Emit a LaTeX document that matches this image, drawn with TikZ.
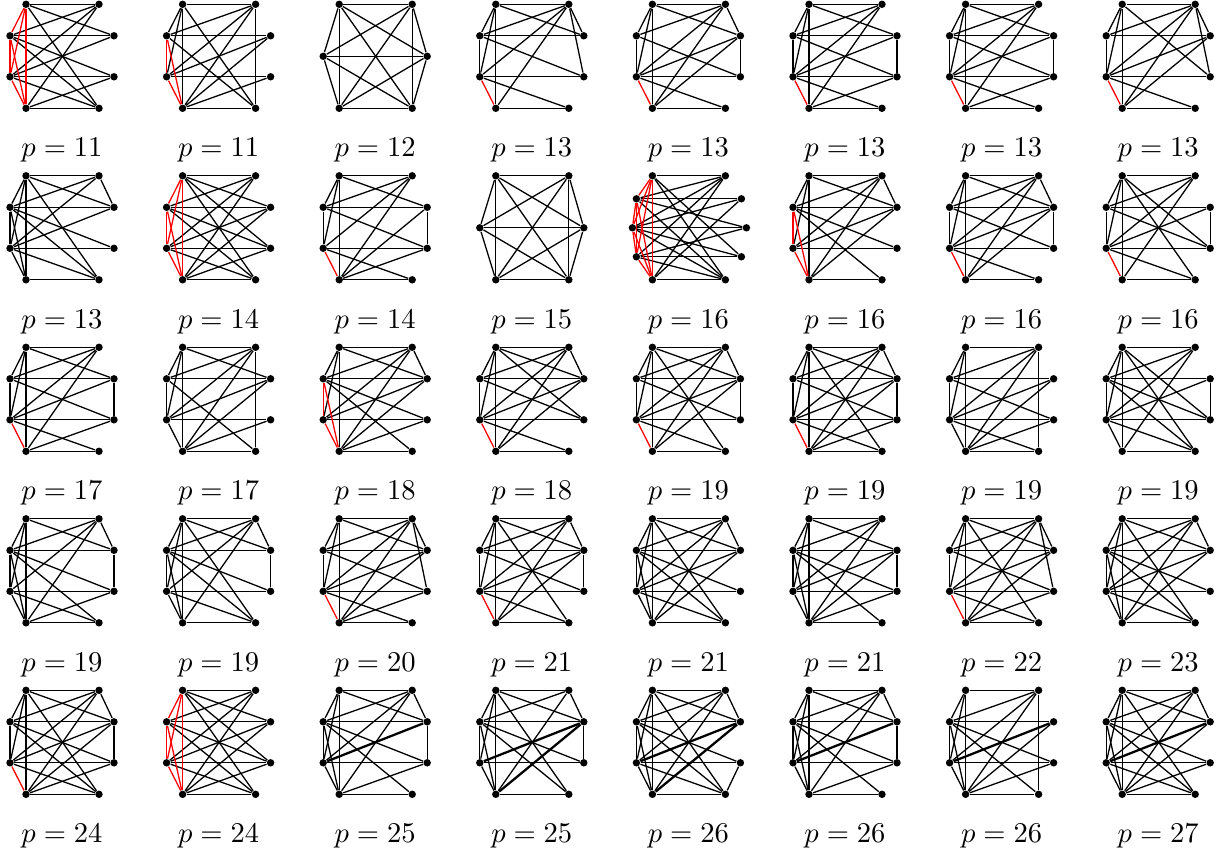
\documentclass[tikz,border=0pt]{standalone}
\usepackage{amsmath}
\usepackage{tikz}
\usetikzlibrary{positioning}

\tikzset{
  vert/.style={circle, fill=black, inner sep=0pt, minimum size=2.6pt},
  edge/.style={black, line width=0.45pt},
  redge/.style={red, line width=0.45pt},
  hedge/.style={black, line width=0.8pt},
  plabel/.style={anchor=base, inner sep=0pt}
}

% sommets d'une cellule (colonne #2, ligne #3)
\newcommand{\octo}[3]{%
  \foreach \n/\dx/\dy in {tl/16/0, tr/89/0, ru/104/31.5, rd/104/72.5, br/89/104, bl/16/104, ld/0/72.5, lu/0/31.5}
    \node[vert] (#1\n) at ({10+(#2-1)*156.6+\dx},{4.3+(#3-1)*171.5+\dy}) {};
}
\newcommand{\hexa}[3]{%
  \foreach \n/\dx/\dy in {tl/16/0, tr/89/0, r/104/52, br/89/104, bl/16/104, l/0/52}
    \node[vert] (#1\n) at ({10+(#2-1)*156.6+\dx},{4.3+(#3-1)*171.5+\dy}) {};
}
\newcommand{\deca}[3]{%
  \foreach \n/\dx/\dy in {tl/16/0, tr/89/0, ru/105/23, rm/110/52, rd/105/81, br/89/104, bl/16/104, ld/0/81, lm/-4/52, lu/0/23}
    \node[vert] (#1\n) at ({10+(#2-1)*156.6+\dx},{4.3+(#3-1)*171.5+\dy}) {};
}
\newcommand{\edges}[3]{%
  \foreach \u/\v in {#3} \draw[#2] (#1\u) -- (#1\v);
}
\newcommand{\plab}[4]{%
  \node[plabel] (#1p) at ({10+(#2-1)*156.6+52},{4.3+(#3-1)*171.5+152.5}) {$p=#4$};
}

\begin{document}
\begin{tikzpicture}[x=0.35pt, y=-0.35pt]
  \useasboundingbox (0,0) rectangle (1221,851);

  % ligne 1
  \octo{g1}{1}{1}
  \edges{g1}{edge}{tl/tr, bl/br, lu/ru, ld/rd, tl/ru, bl/rd, tl/br, bl/tr, tr/lu, br/ld, tr/ld, br/lu, ru/ld, rd/lu}
  \edges{g1}{redge}{tl/lu, tl/ld, tl/bl, lu/ld, lu/bl, ld/bl}
  \plab{g1}{1}{1}{11}

  \octo{g2}{2}{1}
  \edges{g2}{edge}{tl/tr, bl/br, tr/br, tl/bl, tl/lu, tl/ld, lu/ru, ld/rd, tl/br, tr/lu, tr/ld, tr/bl, bl/ru, bl/rd, ld/ru, lu/br}
  \edges{g2}{redge}{lu/ld, lu/bl, ld/bl}
  \plab{g2}{2}{1}{11}

  \hexa{g3}{3}{1}
  \edges{g3}{edge}{tl/tr, bl/br, l/r, tl/bl, tr/br, tl/l, bl/l, tr/r, br/r, tl/r, tl/br, tr/l, tr/bl, l/br, r/bl}
  \plab{g3}{3}{1}{12}

  \octo{g4}{4}{1}
  \edges{g4}{edge}{tl/tr, bl/br, tl/bl, lu/ru, ld/rd, lu/ld, tl/lu, tl/ld, tr/ru, tr/rd, tr/lu, tr/ld, tr/bl, tl/ru, ld/br, lu/rd}
  \edges{g4}{redge}{ld/bl}
  \plab{g4}{4}{1}{13}

  \octo{g5}{5}{1}
  \edges{g5}{edge}{tl/tr, bl/br, tl/bl, lu/ld, tl/lu, tl/ld, tr/ru, ru/rd, ld/rd, tl/ru, tr/lu, tr/ld, tr/bl, lu/rd, ld/ru, bl/ru, ld/br}
  \edges{g5}{redge}{ld/bl}
  \plab{g5}{5}{1}{13}

  \octo{g6}{6}{1}
  \edges{g6}{edge}{tl/tr, bl/br, tl/bl, lu/ld, tl/lu, tl/ld, lu/ru, ld/rd, ru/rd, tl/ru, tr/lu, tr/ld, tr/bl, ld/ru, lu/rd, ld/br, bl/rd}
  \edges{g6}{redge}{ld/bl}
  \plab{g6}{6}{1}{13}

  \octo{g7}{7}{1}
  \edges{g7}{edge}{tl/tr, bl/br, tl/bl, lu/ld, tl/lu, tl/ld, lu/ru, ld/rd, ru/rd, tl/ru, tr/lu, tr/ld, tr/bl, ld/ru, lu/rd, ld/br, bl/rd}
  \edges{g7}{redge}{ld/bl}
  \plab{g7}{7}{1}{13}

  \octo{g8}{8}{1}
  \edges{g8}{edge}{tl/tr, bl/br, tl/bl, lu/ld, tl/lu, tl/ld, tr/ru, tr/rd, lu/ru, ld/rd, tl/rd, tr/lu, tr/ld, tr/bl, ld/ru, ld/br, bl/ru}
  \edges{g8}{redge}{ld/bl}
  \plab{g8}{8}{1}{13}

  % ligne 2
  \octo{g9}{1}{2}
  \edges{g9}{edge}{tl/tr, bl/br, tl/bl, tr/ru, lu/ru, ld/rd, lu/ld, tl/lu, tl/ld, ld/bl, lu/bl, tl/ru, tl/br, tr/lu, tr/ld, lu/rd, lu/br, ld/ru, ld/br}
  \plab{g9}{1}{2}{13}

  \octo{g10}{2}{2}
  \edges{g10}{edge}{tl/tr, bl/br, lu/ru, ld/rd, tl/ru, tl/br, tl/rd, tr/lu, tr/ld, tr/bl, bl/ru, bl/rd, lu/rd, ld/ru, lu/br, ld/br}
  \edges{g10}{redge}{tl/lu, tl/ld, tl/bl, lu/ld, lu/bl, ld/bl}
  \plab{g10}{2}{2}{14}

  \octo{g11}{3}{2}
  \edges{g11}{edge}{tl/tr, bl/br, tl/bl, lu/ld, tl/lu, tl/ld, lu/ru, ld/rd, ru/rd, tl/ru, tr/lu, tr/ld, tr/bl, bl/ru, lu/rd, ld/br, bl/rd}
  \edges{g11}{redge}{ld/bl}
  \plab{g11}{3}{2}{14}

  \hexa{g12}{4}{2}
  \edges{g12}{edge}{tl/tr, bl/br, l/r, tl/bl, tr/br, tl/l, bl/l, tr/r, br/r, tl/r, tl/br, tr/l, tr/bl, l/br, r/bl}
  \plab{g12}{4}{2}{15}

  \deca{g13}{5}{2}
  \edges{g13}{edge}{tl/tr, bl/br, lu/ru, lm/rm, ld/rd, tr/lu, tr/lm, tr/ld, tr/bl, br/lu, br/lm, br/ld, br/tl, ru/lm, ru/bl, rd/lm, rd/tl, rm/lu, rm/ld}
  \edges{g13}{redge}{tl/lu, tl/lm, tl/ld, tl/bl, lu/lm, lu/ld, lu/bl, lm/ld, lm/bl, ld/bl}
  \plab{g13}{5}{2}{16}

  \octo{g14}{6}{2}
  \edges{g14}{edge}{tl/tr, bl/br, tl/bl, tl/lu, tl/ld, tr/ru, lu/ru, ld/rd, tl/ru, tr/lu, tr/ld, tr/bl, lu/rd, lu/br, ld/ru, bl/ru}
  \edges{g14}{redge}{lu/ld, lu/bl, ld/bl}
  \plab{g14}{6}{2}{16}

  \octo{g15}{7}{2}
  \edges{g15}{edge}{tl/tr, bl/br, tl/bl, lu/ld, tl/lu, tl/ld, tr/ru, ru/rd, lu/ru, ld/rd, tl/ru, tr/lu, tr/ld, tr/bl, bl/ru, ld/ru, lu/rd, ld/br}
  \edges{g15}{redge}{ld/bl}
  \plab{g15}{7}{2}{16}

  \octo{g16}{8}{2}
  \edges{g16}{edge}{tl/tr, bl/br, tl/bl, lu/ld, tl/lu, tl/ld, lu/ru, ld/rd, ru/rd, tl/rd, tl/br, tr/lu, tr/ld, tr/bl, lu/rd, ld/ru, ld/br}
  \edges{g16}{redge}{ld/bl}
  \plab{g16}{8}{2}{16}

  % ligne 3
  \octo{g17}{1}{3}
  \edges{g17}{edge}{tl/tr, bl/br, tl/bl, lu/ld, tl/lu, tl/ld, lu/ru, ld/rd, ru/rd, tl/ru, tr/lu, tr/ld, tr/bl, lu/rd, ld/ru, bl/rd, ld/br}
  \edges{g17}{redge}{ld/bl}
  \plab{g17}{1}{3}{17}

  \octo{g18}{2}{3}
  \edges{g18}{edge}{tl/tr, bl/br, tl/bl, tr/br, lu/ld, tl/lu, tl/ld, ld/bl, lu/ru, ld/rd, tr/lu, tr/ld, tr/bl, bl/ru, bl/rd, ld/ru, lu/br, tl/ru}
  \plab{g18}{2}{3}{17}

  \octo{g19}{3}{3}
  \edges{g19}{edge}{tl/tr, bl/br, tl/bl, tl/lu, tl/ld, tr/ru, lu/ru, ld/rd, tl/ru, tr/lu, tr/ld, tr/bl, lu/rd, ld/ru, lu/br, bl/ru, bl/rd}
  \edges{g19}{redge}{lu/ld, lu/bl, ld/bl}
  \plab{g19}{3}{3}{18}

  \octo{g20}{4}{3}
  \edges{g20}{edge}{tl/tr, bl/br, tl/bl, lu/ld, tl/lu, tl/ld, tr/ru, lu/ru, ld/rd, tl/ru, tl/rd, tr/lu, tr/ld, tr/bl, lu/rd, ld/ru, bl/ru, ld/br}
  \edges{g20}{redge}{ld/bl}
  \plab{g20}{4}{3}{18}

  \octo{g21}{5}{3}
  \edges{g21}{edge}{tl/tr, bl/br, tl/bl, lu/ld, tl/lu, tl/ld, tr/ru, lu/ru, ld/rd, ru/rd, tl/ru, tl/br, tr/lu, tr/ld, tr/bl, lu/rd, ld/ru, bl/ru, ld/br}
  \edges{g21}{redge}{ld/bl}
  \plab{g21}{5}{3}{19}

  \octo{g22}{6}{3}
  \edges{g22}{edge}{tl/tr, bl/br, tl/bl, lu/ld, tl/lu, tl/ld, tr/ru, lu/ru, ld/rd, ru/rd, tl/ru, tl/br, tr/lu, tr/ld, tr/bl, lu/rd, ld/ru, bl/ru, ld/br, bl/rd}
  \edges{g22}{redge}{ld/bl}
  \plab{g22}{6}{3}{19}

  \octo{g23}{7}{3}
  \edges{g23}{edge}{tl/tr, bl/br, tl/bl, tr/br, lu/ld, tl/lu, tl/ld, ld/bl, lu/ru, ld/rd, tr/lu, tr/ld, tr/bl, lu/rd, ld/ru, bl/ru, bl/rd, ld/br}
  \plab{g23}{7}{3}{19}

  \octo{g24}{8}{3}
  \edges{g24}{edge}{tl/tr, bl/br, tl/bl, lu/ld, tl/lu, tl/ld, ld/bl, lu/ru, ld/rd, ru/rd, tl/rd, tl/br, tr/lu, tr/ld, tr/bl, lu/rd, ld/ru, lu/br, ld/br}
  \plab{g24}{8}{3}{19}

  % ligne 4
  \octo{g25}{1}{4}
  \edges{g25}{edge}{tl/tr, bl/br, tl/bl, lu/ld, tl/lu, tl/ld, ld/bl, lu/bl, tr/ru, ru/rd, lu/ru, ld/rd, tl/ru, tr/lu, tr/ld, tr/bl, lu/rd, lu/br, ld/br, bl/rd}
  \plab{g25}{1}{4}{19}

  \octo{g26}{2}{4}
  \edges{g26}{edge}{tl/tr, bl/br, tl/bl, lu/ld, tl/lu, tl/ld, ld/bl, lu/bl, tr/ru, ru/rd, lu/ru, ld/rd, tl/ru, tl/br, tr/lu, tr/ld, tr/bl, lu/rd, lu/br, ld/br}
  \plab{g26}{2}{4}{19}

  \octo{g27}{3}{4}
  \edges{g27}{edge}{tl/tr, bl/br, tl/bl, lu/ld, tl/lu, tl/ld, tr/ru, tr/rd, lu/ru, ld/rd, tl/ru, tr/lu, tr/ld, tr/bl, lu/rd, ld/ru, bl/ru, bl/rd, ld/br}
  \edges{g27}{redge}{ld/bl}
  \plab{g27}{3}{4}{20}

  \octo{g28}{4}{4}
  \edges{g28}{edge}{tl/tr, bl/br, tl/bl, lu/ld, tl/lu, tl/ld, tr/ru, ru/rd, lu/ru, ld/rd, tl/ru, tl/br, tr/lu, tr/ld, tr/bl, lu/rd, ld/ru, bl/ru, ld/br}
  \edges{g28}{redge}{ld/bl}
  \plab{g28}{4}{4}{21}

  \octo{g29}{5}{4}
  \edges{g29}{edge}{tl/tr, bl/br, tl/bl, lu/ld, tl/lu, tl/ld, ld/bl, lu/bl, tr/ru, lu/ru, ld/rd, tl/ru, tl/br, tr/lu, tr/ld, tr/bl, lu/rd, ld/ru, lu/br, ld/br, bl/ru}
  \plab{g29}{5}{4}{21}

  \octo{g30}{6}{4}
  \edges{g30}{edge}{tl/tr, bl/br, tl/bl, lu/ld, tl/lu, tl/ld, ld/bl, lu/bl, lu/ru, ld/rd, ru/rd, tl/ru, tr/lu, tr/ld, tr/bl, lu/rd, ld/ru, lu/br, bl/ru, bl/rd}
  \plab{g30}{6}{4}{21}

  \octo{g31}{7}{4}
  \edges{g31}{edge}{tl/tr, bl/br, tl/bl, lu/ld, tl/lu, tl/ld, tr/ru, tr/rd, lu/ru, ld/rd, tl/ru, tl/br, tr/lu, tr/ld, tr/bl, lu/rd, ld/ru, bl/ru, ld/br, bl/rd}
  \edges{g31}{redge}{ld/bl}
  \plab{g31}{7}{4}{22}

  \octo{g32}{8}{4}
  \edges{g32}{edge}{tl/tr, bl/br, tl/bl, lu/ld, tl/lu, tl/ld, ld/bl, lu/bl, tr/ru, lu/ru, ld/rd, tl/ru, tl/br, tr/lu, tr/ld, tr/bl, lu/rd, ld/ru, lu/br, ld/br, bl/ru}
  \plab{g32}{8}{4}{23}

  % ligne 5
  \octo{g33}{1}{5}
  \edges{g33}{edge}{tl/tr, bl/br, tl/bl, lu/ld, tl/lu, tl/ld, tr/ru, ru/rd, lu/ru, ld/rd, tl/ru, tl/br, tr/lu, tr/ld, tr/bl, lu/rd, ld/ru, bl/ru, bl/rd, ld/br, lu/br}
  \edges{g33}{redge}{ld/bl}
  \plab{g33}{1}{5}{24}

  \octo{g34}{2}{5}
  \edges{g34}{edge}{tl/tr, bl/br, lu/ru, ld/rd, tl/ru, tl/rd, tl/br, tr/lu, tr/ld, tr/bl, bl/ru, bl/rd, lu/rd, ld/ru, lu/br, ld/br}
  \edges{g34}{redge}{tl/lu, tl/ld, tl/bl, lu/ld, lu/bl, ld/bl}
  \plab{g34}{2}{5}{24}

  \octo{g35}{3}{5}
  \edges{g35}{edge}{tl/tr, bl/br, tl/bl, lu/ld, tl/lu, tl/ld, ld/bl, lu/bl, tr/ru, lu/ru, ld/rd, ru/rd, tl/ru, tr/lu, tr/bl, lu/rd, lu/br, bl/rd, tr/ld}
  \edges{g35}{hedge}{ld/ru}
  \plab{g35}{3}{5}{25}

  \octo{g36}{4}{5}
  \edges{g36}{edge}{tl/tr, bl/br, tl/bl, lu/ld, tl/lu, tl/ld, ld/bl, lu/bl, tr/ru, lu/ru, ld/rd, ru/rd, tl/ru, tl/br, tr/lu, tr/bl, lu/rd, lu/br}
  \edges{g36}{hedge}{ld/ru, bl/ru}
  \plab{g36}{4}{5}{25}

  \octo{g37}{5}{5}
  \edges{g37}{edge}{tl/tr, bl/br, tl/bl, lu/ld, tl/lu, tl/ld, ld/bl, lu/bl, tr/ru, lu/ru, ld/rd, rd/br, tl/ru, tl/br, tr/lu, tr/ld, tr/bl, lu/rd, lu/br, ld/br}
  \edges{g37}{hedge}{ld/ru, bl/ru}
  \plab{g37}{5}{5}{26}

  \octo{g38}{6}{5}
  \edges{g38}{edge}{tl/tr, bl/br, tl/bl, lu/ld, tl/lu, tl/ld, ld/bl, lu/bl, tr/ru, ru/rd, lu/ru, ld/rd, tl/ru, tr/lu, tr/bl, tr/ld, lu/rd, lu/br, bl/rd}
  \edges{g38}{hedge}{ld/ru}
  \plab{g38}{6}{5}{26}

  \octo{g39}{7}{5}
  \edges{g39}{edge}{tl/tr, bl/br, tl/bl, tr/br, lu/ld, tl/lu, tl/ld, ld/bl, lu/bl, lu/ru, ld/rd, tr/lu, tr/ld, tr/bl, lu/rd, lu/br, bl/ru, bl/rd}
  \edges{g39}{hedge}{ld/ru}
  \plab{g39}{7}{5}{26}

  \octo{g40}{8}{5}
  \edges{g40}{edge}{tl/tr, bl/br, tl/bl, lu/ld, tl/lu, tl/ld, ld/bl, lu/bl, tr/ru, lu/ru, ld/rd, tl/ru, tl/br, tr/lu, tr/ld, tr/bl, lu/rd, lu/br, bl/ru, bl/rd, ld/br}
  \edges{g40}{hedge}{ld/ru}
  \plab{g40}{8}{5}{27}
\end{tikzpicture}
\end{document}
